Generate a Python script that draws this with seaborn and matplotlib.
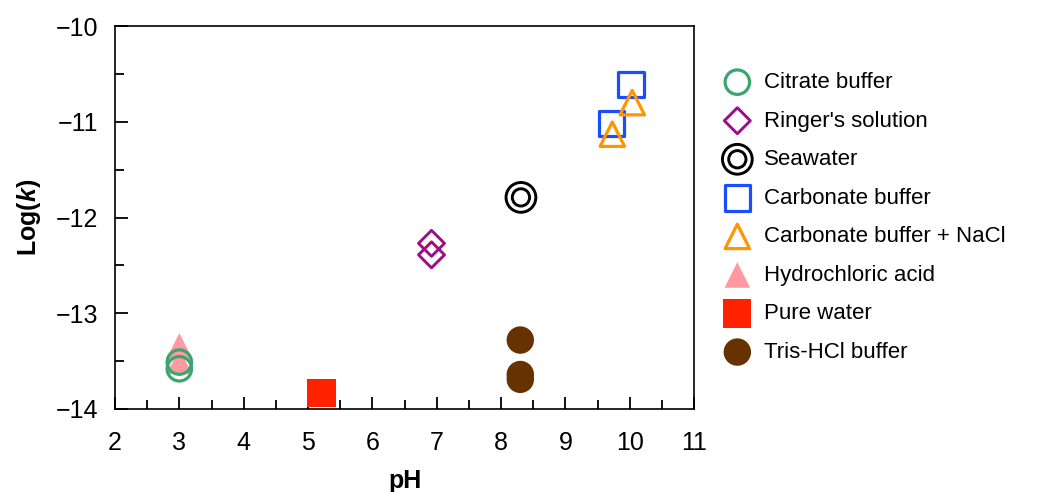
import numpy as np
import pandas as pd
import matplotlib
matplotlib.use("Agg")
import matplotlib.pyplot as plt
from matplotlib.path import Path
from matplotlib.ticker import MultipleLocator
import seaborn as sns

# Measured rate constants by medium
citrate_ph = [3.0, 3.0]
citrate_logk = [-13.51, -13.58]
ringer_ph = [6.92, 6.92]
ringer_logk = [-12.27, -12.39]
seawater_ph = [8.31]
seawater_logk = [-11.79]
carbonate_ph = [10.02, 9.72]
carbonate_logk = [-10.61, -11.02]
carbonate_nacl_ph = [10.04, 9.73]
carbonate_nacl_logk = [-10.80, -11.13]
hcl_ph = [3.0, 3.0]
hcl_logk = [-13.34, -13.50]
water_ph = [5.21]
water_logk = [-13.83]
tris_ph = [8.3, 8.3, 8.3]
tris_logk = [-13.28, -13.64, -13.69]

x_ticks = [2, 3, 4, 5, 6, 7, 8, 9, 10, 11]
y_ticks = [-14, -13, -12, -11, -10]

sns.set_style("ticks")
plt.rcParams["font.family"] = ["Liberation Sans", "DejaVu Sans"]
plt.rcParams["text.color"] = "black"
plt.rcParams["axes.labelcolor"] = "black"
plt.rcParams["mathtext.fontset"] = "custom"
plt.rcParams["mathtext.bf"] = "Liberation Sans:bold"
plt.rcParams["mathtext.bfit"] = "Liberation Sans:bold:italic"
plt.rcParams["mathtext.it"] = "Liberation Sans:italic"

# double-ring marker for seawater
ring = Path.make_compound_path(Path.circle((0, 0), 1.0), Path.circle((0, 0), 0.58))

series = [
    ("Citrate buffer", citrate_ph, citrate_logk, "o", "none", "#3aa66e", 310, 2.3, 5),
    ("Ringer's solution", ringer_ph, ringer_logk, "D", "none", "#9a0f86", 175, 2.1, 4),
    ("Seawater", seawater_ph, seawater_logk, ring, "none", "#000000", 460, 2.1, 4),
    ("Carbonate buffer", carbonate_ph, carbonate_logk, "s", "none", "#1a4dff", 340, 2.3, 3),
    ("Carbonate buffer + NaCl", carbonate_nacl_ph, carbonate_nacl_logk, "^", "none", "#ff9500", 310, 2.3, 4),
    ("Hydrochloric acid", hcl_ph, hcl_logk, "^", "#ff9aa2", "none", 340, 0, 3),
    ("Pure water", water_ph, water_logk, "s", "#ff2200", "none", 410, 0, 3),
    ("Tris-HCl buffer", tris_ph, tris_logk, "o", "#663300", "none", 390, 0, 3),
]

fig = plt.figure(figsize=(10.56, 4.92), dpi=100)
ax = fig.add_axes([115 / 1056, 1 - 409 / 492, (694 - 115) / 1056, (409 - 26) / 492])

for label, xs, ys, marker, fc, ec, size, lw, z in series:
    df = pd.DataFrame({"pH": xs, "logk": ys})
    sns.scatterplot(data=df, x="pH", y="logk", ax=ax, marker=marker, s=size,
                    facecolor=fc, edgecolor=ec, linewidth=lw, label=label,
                    zorder=z, legend=False)

ax.set_xlim(2, 11)
ax.set_ylim(-14, -10)
ax.set_xticks(x_ticks)
ax.set_yticks(y_ticks)
ax.set_yticklabels(["\u2212" + str(abs(v)) for v in y_ticks])
ax.xaxis.set_minor_locator(MultipleLocator(0.5))
ax.yaxis.set_minor_locator(MultipleLocator(0.5))
ax.tick_params(axis="both", which="both", direction="in", top=False, right=False,
               width=1.3, labelsize=18, color="black", labelcolor="black")
ax.tick_params(axis="x", which="major", length=9, pad=16)
ax.tick_params(axis="x", which="minor", length=6.5)
ax.tick_params(axis="y", which="major", length=9, pad=12)
ax.tick_params(axis="y", which="minor", length=6.5)
for sp in ax.spines.values():
    sp.set_visible(True)
    sp.set_linewidth(1.2)
    sp.set_color("black")

ax.set_xlabel("pH", fontsize=18, fontweight="bold", labelpad=10)
ax.set_ylabel(r"Log($\boldsymbol{k}$)", fontsize=18, fontweight="bold", labelpad=9)

handles, labels = ax.get_legend_handles_labels()
fig.legend(handles, labels, loc="upper left",
           bbox_to_anchor=(724 / 1056, 1 - 72 / 492), frameon=False,
           fontsize=16, scatterpoints=1, handlelength=1.2, handletextpad=0.6,
           labelspacing=0.79, borderpad=0, borderaxespad=0)

fig.savefig("out.png", dpi=100, facecolor="white")
